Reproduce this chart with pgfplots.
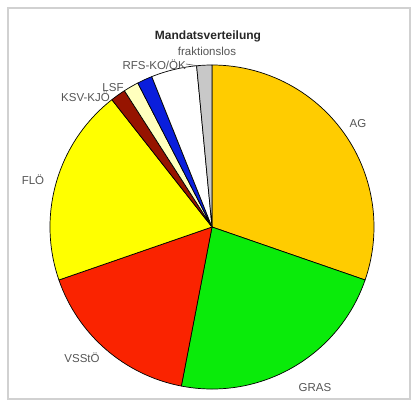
\documentclass[border=0pt]{standalone}
\usepackage{pgfplots}
\usepackage{pgfplotstable}
\pgfplotsset{compat=1.18}
\usepackage{fontspec}
\setmainfont{Liberation Sans}
\definecolor{cAG}{RGB}{255,204,0}
\definecolor{cGRAS}{RGB}{10,235,10}
\definecolor{cVSSTOE}{RGB}{250,35,0}
\definecolor{cFLOE}{RGB}{255,255,0}
\definecolor{cKSV}{RGB}{150,20,0}
\definecolor{cLSF}{RGB}{255,255,190}
\definecolor{cRFS}{RGB}{10,30,220}
\definecolor{cKO}{RGB}{255,255,255}
\definecolor{cFRAK}{RGB}{200,200,200}
\definecolor{lab}{RGB}{85,85,85}
\pgfplotstableread{
seats col
20 cAG
15 cGRAS
11 cVSSTOE
13 cFLOE
1 cKSV
1 cLSF
1 cRFS
3 cKO
1 cFRAK
}\seats

\begin{document}
\begin{tikzpicture}
\path (0,0) rectangle (419bp,401bp);
\draw[black!18, line width=2bp] (8bp,2bp) rectangle (410bp,393bp);
\begin{axis}[hide axis, x=162bp, y=162bp, xmin=-1.28, xmax=1.26, ymin=-1.05, ymax=1.37,
  clip=false, anchor=origin, at={(212bp,174bp)}]
\pgfplotstablegetrowsof{\seats}
\pgfmathtruncatemacro\lastrow{\pgfplotsretval-1}
\gdef\total{0}
\pgfplotsforeachungrouped \i in {0,...,\lastrow}{%
  \pgfplotstablegetelem{\i}{seats}\of\seats
  \pgfmathsetmacro\total{\total+\pgfplotsretval}%
}
\gdef\cum{90}
\pgfplotsforeachungrouped \i in {0,...,\lastrow}{%
  \pgfplotstablegetelem{\i}{seats}\of\seats \let\val\pgfplotsretval
  \pgfplotstablegetelem{\i}{col}\of\seats \let\col\pgfplotsretval
  \pgfmathsetmacro\endang{\cum-\val*360/\total}%
  \edef\temp{\noexpand\filldraw[fill=\col, draw=black, line width=0.7bp, line join=round]
    (axis cs:0,0) -- ++(\cum:162bp) arc[start angle=\cum, end angle=\endang, radius=162bp] -- cycle;}%
  \temp
  \global\let\cum\endang
}
\end{axis}
\begin{scope}[font=\fontsize{11.5bp}{13bp}\selectfont, text=lab, inner sep=0pt]
\node at (358bp,277bp) {AG};
\node at (315bp,13bp) {GRAS};
\node at (82bp,43bp) {VSStÖ};
\node at (33bp,221bp) {FLÖ};
\node[anchor=east] at (110bp,304bp) {KSV-KJÖ};
\node at (113bp,313bp) {LSF};
\node[anchor=east] at (186bp,336bp) {RFS-KO/ÖK};
\node at (207bp,350bp) {fraktionslos};
\end{scope}
\draw[lab, line width=0.6bp] (186bp,337bp) -- (199bp,335bp);
\node[font=\bfseries\fontsize{12bp}{14bp}\selectfont, text=black!85, inner sep=0pt] at (208bp,365bp) {Mandatsverteilung};
\end{tikzpicture}
\end{document}
